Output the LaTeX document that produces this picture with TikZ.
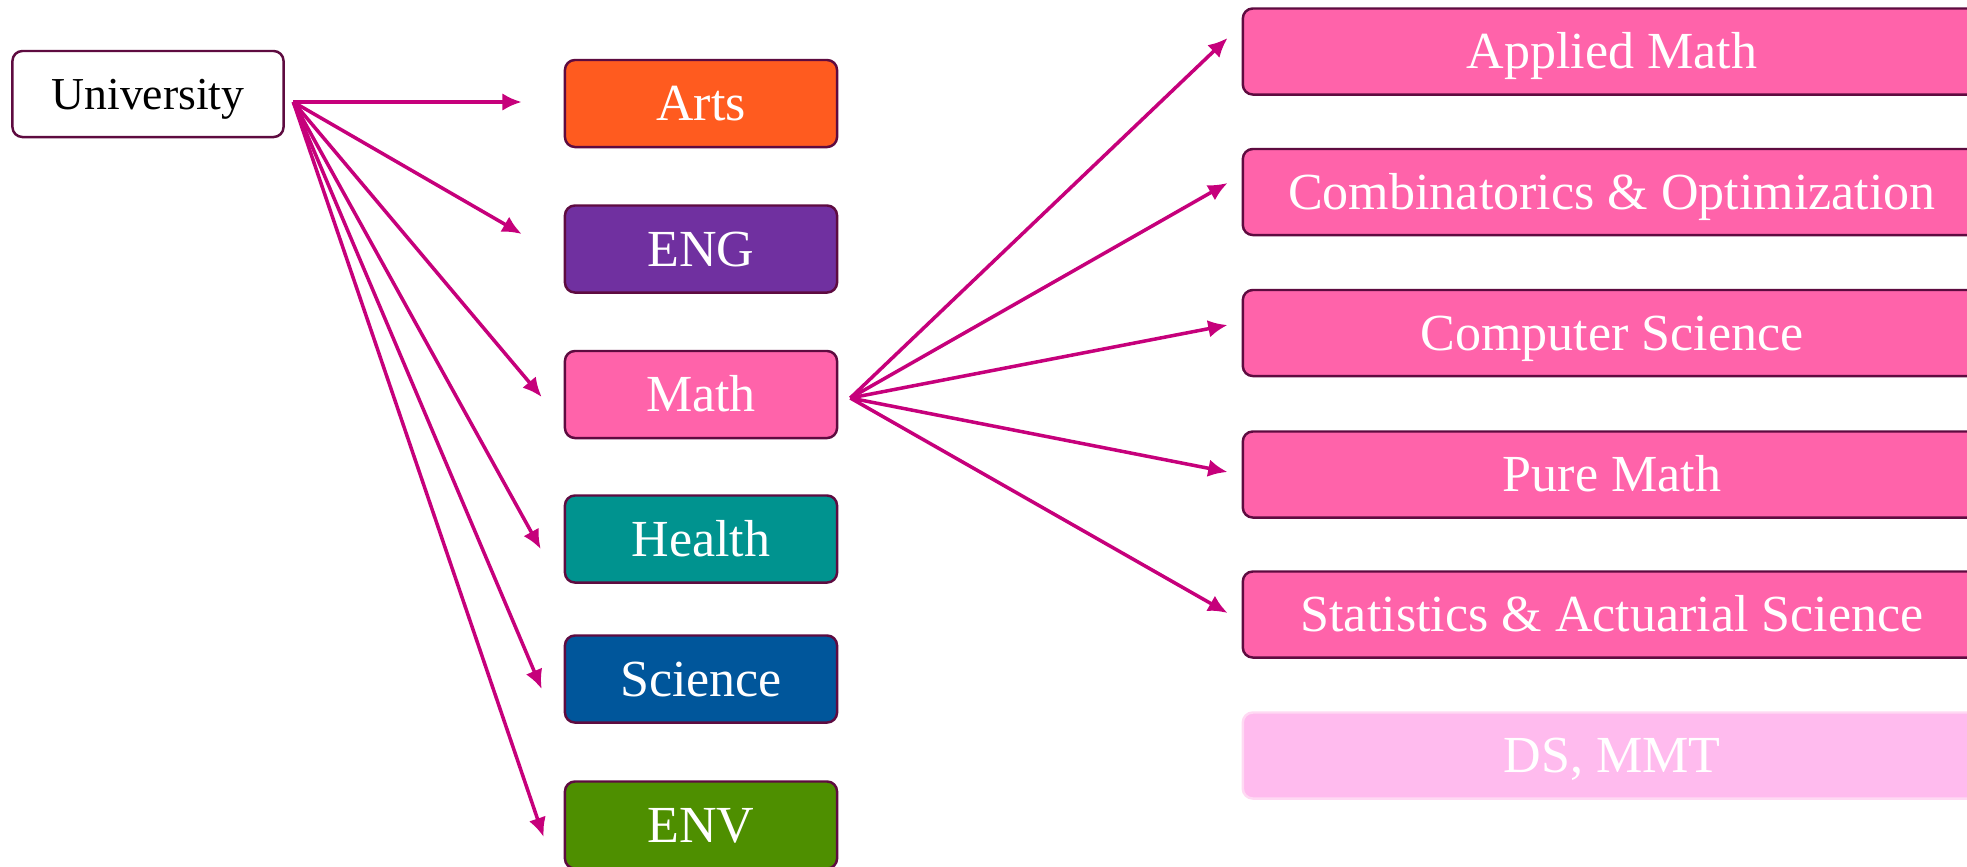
\documentclass[tikz,border=0pt]{standalone}
\usepackage{fontspec}
\setmainfont{Liberation Serif}
\usetikzlibrary{calc}
\usetikzlibrary{arrows.meta}
\definecolor{edgeplum}{HTML}{5E0B40}
\definecolor{arrowmag}{HTML}{C6007B}
\definecolor{artsorange}{HTML}{FF5B1F}
\definecolor{engpurple}{HTML}{7030A0}
\definecolor{mathpink}{HTML}{FF63AA}
\definecolor{healthteal}{HTML}{00938F}
\definecolor{sciblue}{HTML}{00569B}
\definecolor{envgreen}{HTML}{4E8F00}
\definecolor{dspink}{HTML}{FFBBEE}
\definecolor{dsedge}{HTML}{FFD9F3}
\tikzstyle{facbox} = [draw=edgeplum, line width=0.7pt, rounded corners=0.1cm, minimum width=2.72cm, minimum height=0.87cm, text=white, text height=9.8pt, text depth=0pt, font=\fontsize{14.8}{18}\selectfont]
\tikzstyle{deptbox} = [facbox, fill=mathpink, minimum width=7.38cm, minimum height=0.86cm]
\tikzstyle{link} = [draw=arrowmag, line width=1pt, -{Latex[length=5.5pt,width=5pt]}]

\begin{document}
\begin{tikzpicture}[x=0.01cm, y=-0.01cm]
    \useasboundingbox (0,0) rectangle (1967,866);

    \node[facbox, fill=white, text=black, minimum width=2.71cm, minimum height=0.86cm, text height=8.6pt, font=\fontsize{13}{16}\selectfont] (uni) at (148,94) {University};

    \node[facbox, fill=artsorange] (arts) at (701,103.5) {Arts};
    \node[facbox, fill=engpurple] (eng) at (701,249) {ENG};
    \node[facbox, fill=mathpink] (math) at (701,394.5) {Math};
    \node[facbox, fill=healthteal] (health) at (701,539) {Health};
    \node[facbox, fill=sciblue] (sci) at (701,679) {Science};
    \node[facbox, fill=envgreen] (env) at (701,825) {ENV};

    \node[deptbox] (amath) at (1612,51.5) {Applied Math};
    \node[deptbox] (co) at (1612,192) {Combinatorics \& Optimization};
    \node[deptbox] (cs) at (1612,333) {Computer Science};
    \node[deptbox] (pmath) at (1612,474.5) {Pure Math};
    \node[deptbox] (stat) at (1612,614.5) {Statistics \& Actuarial Science};
    \node[deptbox, fill=dspink, draw=dsedge] (dsmmt) at (1612,755.5) {DS, MMT};

    % university to faculties
    \coordinate (uni_out) at ($(uni.east)+(8.5,8)$);
    \coordinate (arts_in) at ($(arts.west)+(-42,-1.5)$);
    \coordinate (eng_in) at ($(eng.west)+(-42,-15)$);
    \coordinate (math_in) at ($(math.west)+(-22,2.5)$);
    \coordinate (health_in) at ($(health.west)+(-23,10)$);
    \coordinate (sci_in) at ($(sci.west)+(-22,10)$);
    \coordinate (env_in) at ($(env.west)+(-20,12)$);
    \draw[link] (uni_out) -- (arts_in);
    \draw[link] (uni_out) -- (eng_in);
    \draw[link] (uni_out) -- (math_in);
    \draw[link] (uni_out) -- (health_in);
    \draw[link] (uni_out) -- (sci_in);
    \draw[link] (uni_out) -- (env_in);

    % math to departments
    \coordinate (math_out) at ($(math.east)+(12,3.5)$);
    \coordinate (amath_in) at ($(amath.west)+(-14,-13.5)$);
    \coordinate (co_in) at ($(co.west)+(-14,-9)$);
    \coordinate (cs_in) at ($(cs.west)+(-14,-8)$);
    \coordinate (pmath_in) at ($(pmath.west)+(-14,-2.5)$);
    \coordinate (stat_in) at ($(stat.west)+(-14,-1.5)$);
    \draw[link] (math_out) -- (amath_in);
    \draw[link] (math_out) -- (co_in);
    \draw[link] (math_out) -- (cs_in);
    \draw[link] (math_out) -- (pmath_in);
    \draw[link] (math_out) -- (stat_in);
\end{tikzpicture}
\end{document}
